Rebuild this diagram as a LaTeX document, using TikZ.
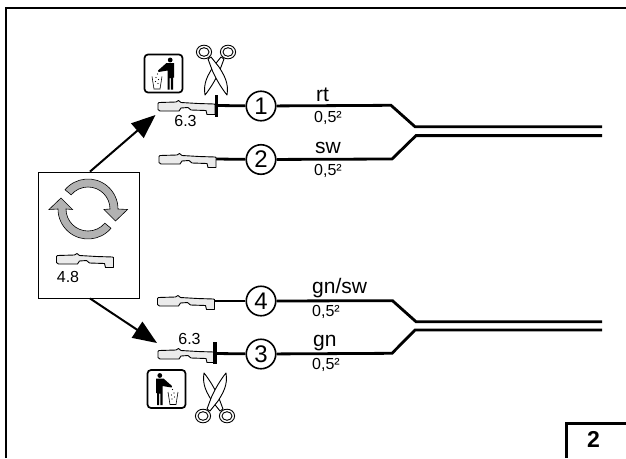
\documentclass[tikz,border=0pt]{standalone}
\usepackage{fontspec}
\setmainfont{Liberation Sans}
\usetikzlibrary{arrows.meta}
\tikzset{
  x=1pt,y=-1pt,
  wire/.style={line width=2.8pt,line join=miter},
  num/.style={circle,draw,line width=1.6pt,fill=white,minimum size=29.5pt,inner sep=0pt,font=\fontsize{24}{24}\selectfont},
  wlabel/.style={anchor=base west,inner sep=0pt,font=\fontsize{21}{22}\selectfont},
  xsec/.style={anchor=base west,inner sep=0pt,font=\fontsize{16}{17}\selectfont},
  size/.style={anchor=base,inner sep=0pt,font=\fontsize{16}{17}\selectfont},
  arrowline/.style={line width=2pt,-{Triangle[length=24pt,width=19pt]},shorten >=0pt},
  pics/terminal/.style={code={
    \draw[fill=black!8,line width=0.9pt,line join=round]
      (0,-2.5) -- (1,-3.5) -- (18,-4) -- (20.5,-5.5) -- (23,-3.5) -- (40,-2.5) -- (56,-2) -- (57,-1.5) -- (57,8.5) -- (49,8.5) -- (48,4.5)
      -- (33,4) -- (30,1.5) -- (23,2) -- (21,5) -- (2,5) -- (0,3.5) -- cycle;
  }},
  pics/scissor/.style={code={
    \draw[line width=0.9pt,fill=white,line join=round] (-11,24) .. controls (-13,12) and (-8,4) .. (-3,-4) -- (5,-14) -- (8,-12) -- (3.5,0) .. controls (0,8) and (-6,18) .. (-11,24) -- cycle;
    \draw[line width=0.9pt,fill=white,line join=round] (11,24) .. controls (13,12) and (8,4) .. (3,-4) -- (-5,-14) -- (-8,-12) -- (-3.5,0) .. controls (0,8) and (6,18) .. (11,24) -- cycle;
    \begin{scope}[shift={(-12,-19)}]
      \draw[line width=0.9pt,fill=white] (0,0) ellipse [x radius=7.6,y radius=6.8];
      \draw[line width=0.9pt,fill=white] (0,0) ellipse [x radius=5,y radius=4.3];
    \end{scope}
    \begin{scope}[shift={(12,-19)}]
      \draw[line width=0.9pt,fill=white] (0,0) ellipse [x radius=7.6,y radius=6.8];
      \draw[line width=0.9pt,fill=white] (0,0) ellipse [x radius=5,y radius=4.3];
    \end{scope}
  }},
  pics/trashicon/.style={code={
    \draw[line width=1.7pt,rounded corners=3.5pt] (-19,-19) rectangle (19,19);
    \fill (6.7,-13.5) circle [radius=2.4];
    \fill (3,-10.5) -- (10.5,-10.5) -- (10.5,4) -- (9.5,4) -- (9.5,16) -- (7.3,16) -- (7.3,4.5) -- (6.2,4.5) -- (6.2,16) -- (4,16) -- (4,-3) -- (-5,-1.5) -- (-5.5,-3) -- cycle;
    \draw[line width=0.6pt] (-11.5,3) -- (-9.5,15.5) -- (-3.5,15.5) -- (-1.5,3);
    \fill (-6,0.5) circle [radius=0.6] (-7.5,4) circle [radius=0.6] (-5,6) circle [radius=0.6] (-8,8) circle [radius=0.6] (-5.5,10) circle [radius=0.6];
  }}
}
\begin{document}
\begin{tikzpicture}
\useasboundingbox (0,0) rectangle (626,458);
% frame
\draw[line width=2.6pt] (6,458) -- (6,8) -- (626,8);
\draw[line width=2.6pt] (566.5,458) -- (566.5,423.5) -- (626,423.5);
\node[anchor=base,inner sep=0pt,font=\bfseries\fontsize{23}{23}\selectfont] (pg) at (593.5,447) {2};

% centre box
\node[draw,line width=0.8pt,minimum width=101pt,minimum height=126pt,inner sep=0pt] (box) at (88.5,235) {};
\fill[black!30,draw=black,line width=0.6pt]
  (88,209) ++(-140:30) arc[start angle=-140,end angle=0,radius=30] -- (127.5,209.5) -- (115.5,221) -- (104,209.5) -- (110,209)
  arc[start angle=0,end angle=-140,radius=22] -- cycle;
\fill[black!30,draw=black,line width=0.6pt]
  (88,209) ++(40:30) arc[start angle=40,end angle=180,radius=30] -- (49,209.5) -- (61,198) -- (72.5,209.5) -- (66,209)
  arc[start angle=180,end angle=40,radius=22] -- cycle;
\path (56.5,259) pic {terminal};
\node[size] (t48) at (68,282) {4.8};

% circles
\node[num] (n1) at (261,106) {1};
\node[num] (n2) at (261,159.5) {2};
\node[num] (n4) at (261,301) {4};
\node[num] (n3) at (261,354) {3};

% terminals
\coordinate (t1) at (216,105.5);
\coordinate (t2) at (215,159);
\coordinate (t4) at (214,301);
\coordinate (t3) at (215,353.5);
\coordinate (a1) at (391,105.3); \coordinate (b1) at (415,126.7); \coordinate (e1) at (602,126.7);
\coordinate (a2) at (392,159);   \coordinate (b2) at (416,135.6); \coordinate (e2) at (602,135.6);
\coordinate (a4) at (392.5,300.7); \coordinate (b4) at (416,321.7); \coordinate (e4) at (602,321.7);
\coordinate (a3) at (392,353.3); \coordinate (b3) at (415,330); \coordinate (e3) at (602,330);

\draw[wire] (t1) -- (n1);
\draw[wire] (t2) -- (n2);
\draw[wire] (t4) -- (n4);
\draw[wire] (t3) -- (n3);
\draw[wire] (n1) -- (a1) -- (b1) -- (e1);
\draw[wire] (n2) -- (a2) -- (b2) -- (e2);
\draw[wire] (n4) -- (a4) -- (b4) -- (e4);
\draw[wire] (n3) -- (a3) -- (b3) -- (e3);

\path (158,106) pic {terminal};
\path (159,159) pic {terminal};
\path (157.5,301) pic {terminal};
\path (158,354) pic {terminal};

% cut bars
\draw[line width=3.4pt] (216.5,95) -- (216.5,117);
\draw[line width=3.4pt] (215,342) -- (215,364);

% labels
\node[wlabel] (lrt) at (316,101.5) {rt};
\node[xsec] (x1) at (314,122) {0,5²};
\node[wlabel] (lsw) at (315,153) {sw};
\node[xsec] (x2) at (314,175) {0,5²};
\node[wlabel] (lgs) at (312,293) {gn/sw};
\node[xsec] (x4) at (312,316) {0,5²};
\node[wlabel] (lgn) at (313,346.5) {gn};
\node[xsec] (x3) at (312,369) {0,5²};
\node[size] (s1) at (185.5,126) {6.3};
\node[size] (s3) at (189.5,344) {6.3};

% arrows
\coordinate (tipu) at (155.5,115);
\coordinate (tipl) at (157,343);
\draw[arrowline] (box.north) ++(1.5,0) -- (tipu);
\draw[arrowline] (box.south) ++(1.5,0) -- (tipl);

% icons
\path (216,71) pic {scissor};
\path (215,397) pic[yscale=-1] {scissor};
\path (163.5,73.5) pic {trashicon};
\path (166.5,389) pic[xscale=-1] {trashicon};
\end{tikzpicture}
\end{document}
